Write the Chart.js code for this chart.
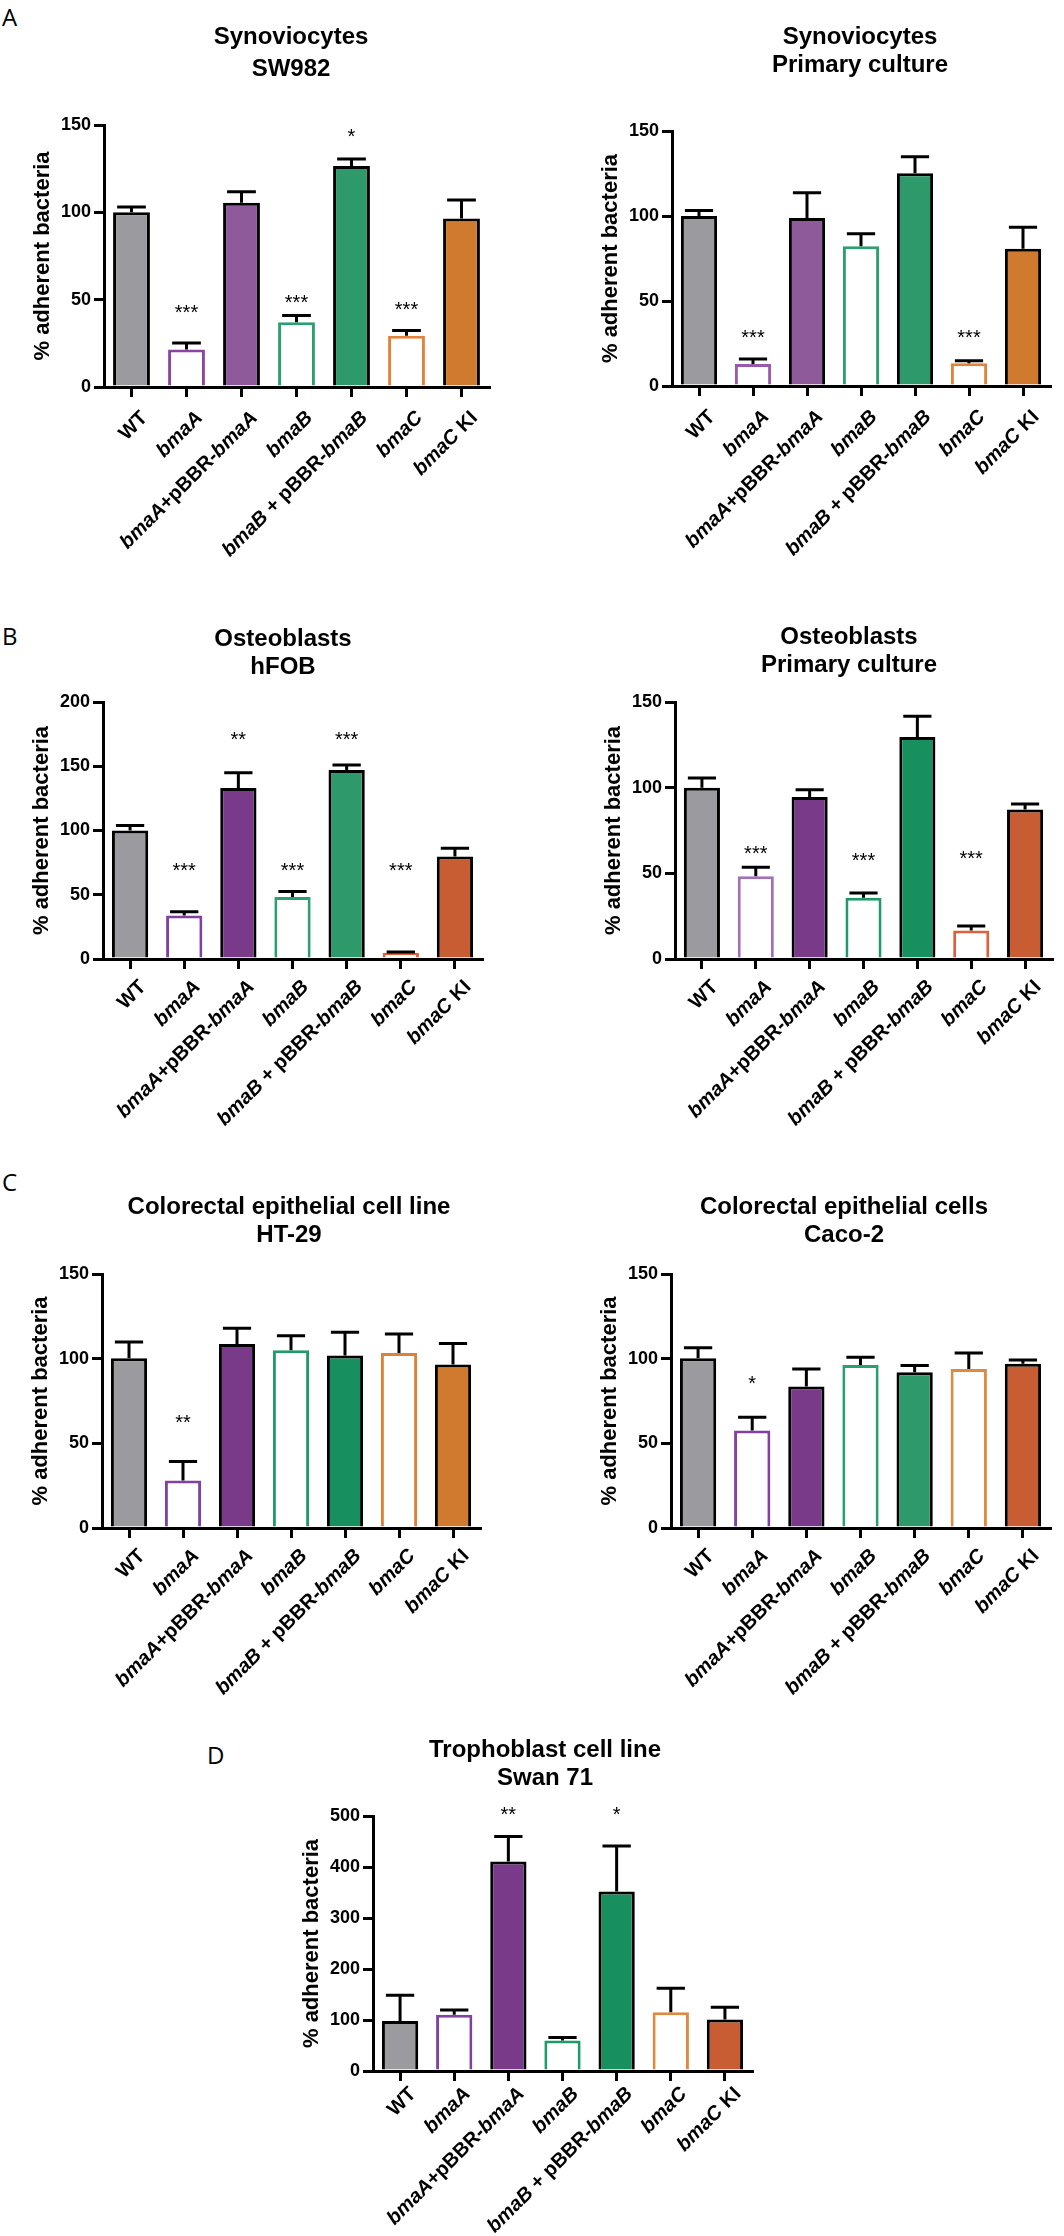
<!DOCTYPE html>
<html>
<head>
<meta charset="utf-8">
<script src="https://cdn.jsdelivr.net/npm/chart.js@4.4.1/dist/chart.umd.min.js"></script>
<style>
  body { margin: 0; background: #fff; width: 1064px; height: 2236px; position: relative; overflow: hidden; }
  canvas { position: absolute; }
  .lt { position: absolute; font: 24px 'Open Sans', sans-serif; color: #000; line-height: 1; }
</style>
</head>
<body>
<div class="lt" style="left:2px;top:5px">A</div>
<div class="lt" style="left:2px;top:624px">B</div>
<div class="lt" style="left:2px;top:1170px">C</div>
<div class="lt" style="left:207px;top:1743px">D</div>
<script>
// strains on the x axis (same for every panel)
const categories = ['WT', 'bmaA', 'bmaA+pBBR-bmaA', 'bmaB', 'bmaB + pBBR-bmaB', 'bmaC', 'bmaC KI'];

// A - synoviocytes SW982
const swMean = [100, 21.5, 105.5, 37, 126.5, 29.3, 96.5];
const swErr = [3, 3.7, 6.3, 3.9, 4.1, 3, 10.6];
const swStars = ['', '***', '', '***', '*', '***', ''];
const swStarAt = [null, 45, null, 50.7, 146, 46.7, null];

// A - synoviocytes primary culture
const synMean = [100, 13, 98.8, 82.2, 125.2, 13.4, 80.8];
const synErr = [3.2, 2.9, 14.9, 7.3, 9.7, 1.5, 12.6];
const synStars = ['', '***', '', '', '', '***', ''];
const synStarAt = [null, 31, null, null, null, 31, null];

// B - osteoblasts hFOB
const fobMean = [100, 33.9, 133, 48.3, 147, 4.7, 79.7];
const fobErr = [3.9, 2.8, 12, 4.2, 4, 0.8, 6.4];
const fobStars = ['', '***', '**', '***', '***', '***', ''];
const fobStarAt = [null, 72, 174, 72, 174, 72, null];

// B - osteoblasts primary culture
const ostMean = [100, 48.3, 94.6, 35.8, 129.6, 16.7, 87.3];
const ostErr = [5.6, 5.2, 4.2, 2.7, 12.1, 2.5, 3.1];
const ostStars = ['', '***', '', '***', '', '***', ''];
const ostStarAt = [null, 64, null, 60, null, 61, null];

// C - HT-29
const htMean = [100.2, 28, 108.6, 105, 101.9, 103.4, 96.6];
const htErr = [9.7, 11.2, 9.4, 8.5, 13.7, 11.2, 12.3];
const htStars = ['', '**', '', '', '', '', ''];
const htStarAt = [null, 65, null, null, null, null, null];

// C - Caco-2
const cacoMean = [100.2, 57.6, 83.5, 96.2, 92, 93.9, 97];
const cacoErr = [6.3, 7.8, 10.4, 4.6, 4, 9.5, 2.2];
const cacoStars = ['', '*', '', '', '', '', ''];
const cacoStarAt = [null, 88, null, null, null, null, null];

// D - Swan 71
const swanMean = [98, 110.4, 411, 60, 352, 115.4, 101];
const swanErr = [50.6, 9.4, 49, 5.7, 89, 46.9, 23.8];
const swanStars = ['', '', '**', '', '*', '', ''];
const swanStarAt = [null, null, 511, null, 511, null, null];

const FONT = "'Liberation Sans', Arial, sans-serif";
const hollow = [false, true, false, true, false, true, false];
const EXTRA = 70; // room below each panel so rotated labels are not clipped

const panels = [
  { left: 0, top: 0, w: 532, h: 560, axisX: 104, axisR: 489, top0: 125, bottom0: 387, yMax: 150, step: 50, labelDy: 23,
    title: ['Synoviocytes', 'SW982'], titleX: 291, titleY: [37, 69],
    mean: swMean, err: swErr, stars: swStars, starAt: swStarAt,
    colors: ['#9b9a9f', '#8b45a0', '#8e5a9a', '#2aa070', '#2e9a6c', '#e5823a', '#d07a30'] },
  { left: 532, top: 0, w: 532, h: 560, axisX: 140, axisR: 518, top0: 131, bottom0: 386, yMax: 150, step: 50, labelDy: 23,
    title: ['Synoviocytes', 'Primary culture'], titleX: 328, titleY: [37, 65],
    mean: synMean, err: synErr, stars: synStars, starAt: synStarAt,
    colors: ['#9b9a9f', '#9a5aaa', '#8e5a9a', '#2aa070', '#2e9a6c', '#e5823a', '#d07a30'] },
  { left: 0, top: 560, w: 532, h: 560, axisX: 103, axisR: 482, top0: 142, bottom0: 399, yMax: 200, step: 50, labelDy: 20,
    title: ['Osteoblasts', 'hFOB'], titleX: 283, titleY: [79, 107],
    mean: fobMean, err: fobErr, stars: fobStars, starAt: fobStarAt,
    colors: ['#9b9a9f', '#8240a0', '#7a3a8a', '#2aa070', '#2e9a6c', '#e0603a', '#c85c33'] },
  { left: 532, top: 560, w: 532, h: 560, axisX: 143, axisR: 520, top0: 142, bottom0: 399, yMax: 150, step: 50, labelDy: 20,
    title: ['Osteoblasts', 'Primary culture'], titleX: 317, titleY: [77, 105],
    mean: ostMean, err: ostErr, stars: ostStars, starAt: ostStarAt,
    colors: ['#9b9a9f', '#a070b8', '#7a3a8a', '#1f9a68', '#178f5e', '#e0603a', '#c85c33'] },
  { left: 0, top: 1120, w: 532, h: 560, axisX: 102, axisR: 480, top0: 154, bottom0: 408, yMax: 150, step: 50, labelDy: 20,
    title: ['Colorectal epithelial cell line', 'HT-29'], titleX: 289, titleY: [87, 115],
    mean: htMean, err: htErr, stars: htStars, starAt: htStarAt,
    colors: ['#9b9a9f', '#8240a0', '#7a3a8a', '#1f9a68', '#178f5e', '#e08038', '#d07a30'] },
  { left: 532, top: 1120, w: 532, h: 560, axisX: 139, axisR: 518, top0: 154, bottom0: 408, yMax: 150, step: 50, labelDy: 20,
    title: ['Colorectal epithelial cells', 'Caco-2'], titleX: 312, titleY: [87, 115],
    mean: cacoMean, err: cacoErr, stars: cacoStars, starAt: cacoStarAt,
    colors: ['#9b9a9f', '#8240a0', '#7a3a8a', '#2aa070', '#2e9a6c', '#e08a40', '#c85c33'] },
  { left: 270, top: 1660, w: 532, h: 576, axisX: 103, axisR: 482, top0: 156, bottom0: 411, yMax: 500, step: 100, labelDy: 15,
    title: ['Trophoblast cell line', 'Swan 71'], titleX: 275, titleY: [90, 118],
    mean: swanMean, err: swanErr, stars: swanStars, starAt: swanStarAt,
    colors: ['#9b9a9f', '#8240a0', '#7a3a8a', '#1f9a68', '#178f5e', '#e08a40', '#c85c33'] }
];

// error bars, asterisks, rotated labels (gene names in italics) and the two-line title
function decor(p) {
  return {
    id: 'decor',
    afterDatasetsDraw(chart) {
      const ctx = chart.ctx;
      const ys = chart.scales.y, xs = chart.scales.x;
      const bars = chart.getDatasetMeta(0).data;
      ctx.save();
      ctx.strokeStyle = '#000';
      ctx.lineWidth = 3;
      ctx.lineCap = 'butt';
      bars.forEach((b, i) => {
        const yTop = ys.getPixelForValue(p.mean[i]);
        const yErr = ys.getPixelForValue(p.mean[i] + p.err[i]);
        const cap = b.width * 0.39;
        ctx.beginPath();
        ctx.moveTo(b.x, yTop);
        ctx.lineTo(b.x, yErr);
        ctx.moveTo(b.x - cap, yErr);
        ctx.lineTo(b.x + cap, yErr);
        ctx.stroke();
      });

      ctx.fillStyle = '#000';
      ctx.font = '20px ' + FONT;
      ctx.textAlign = 'center';
      ctx.textBaseline = 'alphabetic';
      p.stars.forEach((s, i) => {
        if (!s) return;
        ctx.fillText(s, bars[i].x, ys.getPixelForValue(p.starAt[i]) + 11);
      });

      // x labels, rotated 45 degrees and ending just under each tick
      const base = chart.chartArea.bottom;
      categories.forEach((lab, i) => {
        const x = xs.getPixelForValue(i);
        const parts = lab.split(/(bma[ABC])/).filter(s => s.length);
        const fonts = parts.map(s => (/^bma[ABC]$/.test(s) ? 'italic bold 20px ' : 'bold 20px ') + FONT);
        let total = 0;
        const widths = parts.map((s, k) => { ctx.font = fonts[k]; const w = ctx.measureText(s).width; total += w; return w; });
        ctx.save();
        ctx.translate(x + 13, base + p.labelDy + 5);
        ctx.rotate(-Math.PI / 4);
        ctx.textAlign = 'left';
        ctx.textBaseline = 'middle';
        let cx = -total;
        parts.forEach((s, k) => {
          ctx.font = fonts[k];
          ctx.fillText(s, cx, 0);
          cx += widths[k];
        });
        ctx.restore();
      });

      // title
      ctx.font = 'bold 24px ' + FONT;
      ctx.textAlign = 'center';
      ctx.textBaseline = 'middle';
      p.title.forEach((t, k) => ctx.fillText(t, p.titleX, p.titleY[k]));
      ctx.restore();
    }
  };
}

function makeChart(p) {
  const H = p.h + EXTRA;
  const cv = document.createElement('canvas');
  cv.width = p.w;
  cv.height = H;
  cv.style.left = p.left + 'px';
  cv.style.top = p.top + 'px';
  cv.style.width = p.w + 'px';
  cv.style.height = H + 'px';
  document.body.appendChild(cv);

  new Chart(cv.getContext('2d'), {
    type: 'bar',
    data: {
      labels: categories,
      datasets: [{
        data: p.mean,
        backgroundColor: p.colors.map((c, i) => hollow[i] ? '#fff' : c),
        borderColor: p.colors.map((c, i) => hollow[i] ? c : '#000'),
        borderWidth: 3,
        borderSkipped: 'start',
        barPercentage: 0.67,
        categoryPercentage: 1
      }]
    },
    options: {
      responsive: false,
      animation: false,
      devicePixelRatio: 1,
      layout: { padding: { left: 0, right: p.w - p.axisR, top: p.top0, bottom: 0 } },
      plugins: { legend: { display: false }, tooltip: { enabled: false } },
      scales: {
        x: {
          grid: { offset: false, drawOnChartArea: false, drawTicks: true, tickLength: 10, lineWidth: 3, color: '#000' },
          border: { color: '#000', width: 3 },
          ticks: { display: false },
          afterFit: s => { s.height = H - p.bottom0; }
        },
        y: {
          min: 0,
          max: p.yMax,
          ticks: { stepSize: p.step, color: '#000', font: { family: FONT, weight: 'bold', size: 18 }, padding: 3 },
          grid: { drawOnChartArea: false, tickLength: 10, lineWidth: 3, color: '#000' },
          border: { color: '#000', width: 3 },
          title: {
            display: true, text: '% adherent bacteria', color: '#000',
            font: { family: FONT, weight: 'bold', size: 22 },
            padding: { top: p.axisX - 61 - 13, bottom: 0 }
          },
          afterFit: s => { s.width = p.axisX; }
        }
      }
    },
    plugins: [decor(p)]
  });
}

panels.forEach(makeChart);
</script>
</body>
</html>
